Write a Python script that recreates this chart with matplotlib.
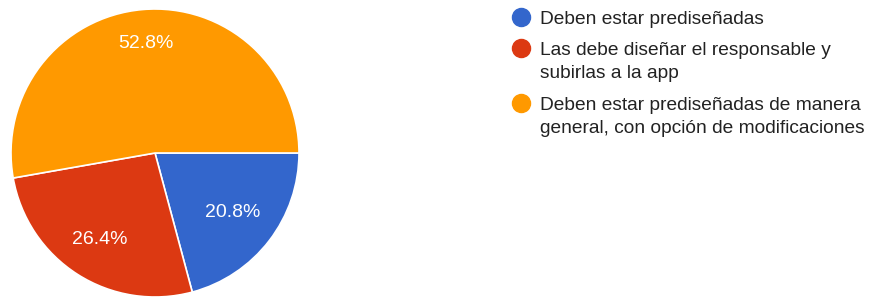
import numpy as np
import matplotlib.pyplot as plt
from matplotlib.lines import Line2D

plt.rcParams['font.family'] = ['Liberation Sans', 'DejaVu Sans']

labels = [
    "Deben estar prediseñadas",
    "Las debe diseñar el responsable y\nsubirlas a la app",
    "Deben estar prediseñadas de manera\ngeneral, con opción de modificaciones",
]
counts = [15, 19, 38]
colors = ['#3366CC', '#DC3912', '#FF9900']
# how far out each percent label sits (fraction of radius)
label_dist = [0.68, 0.71, 0.76]

W, H = 873, 297
fig = plt.figure(figsize=(W / 100, H / 100), dpi=100)

# pie: center (155,153), radius 144 px
r = 144
ax = fig.add_axes([(155 - r) / W, (H - 153 - r) / H, 2 * r / W, 2 * r / H])
wedges, texts, autotexts = ax.pie(
    counts, colors=colors, startangle=0, counterclock=False,
    autopct='%1.1f%%',
    wedgeprops=dict(edgecolor='white', linewidth=1.2),
    textprops=dict(color='white', fontsize=14))
for w, t, d in zip(wedges, autotexts, label_dist):
    a = np.deg2rad((w.theta1 + w.theta2) / 2)
    t.set_position((d * np.cos(a), d * np.sin(a)))
ax.set_xlim(-1, 1)
ax.set_ylim(-1, 1)
ax.set_aspect('equal')

# legend drawn by hand
line_tops = [17, 48, 103]
for lab, col, y in zip(labels, colors, line_tops):
    fig.add_artist(Line2D([521 / W], [1 - y / H], marker='o', markersize=13,
                          color=col, transform=fig.transFigure))
    fig.text(540 / W, 1 - (y - 6) / H, lab, fontsize=13.8, color='#222222',
             va='top', ha='left', linespacing=1.43)

fig.savefig('out.png', dpi=100)
